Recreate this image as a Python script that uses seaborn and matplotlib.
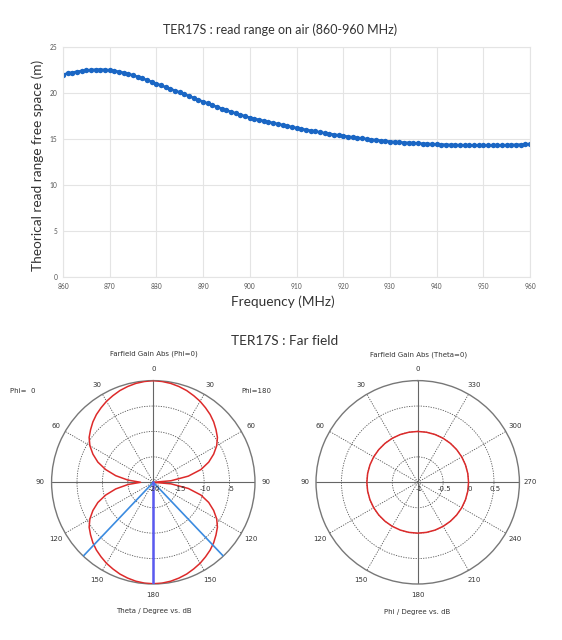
import numpy as np
import pandas as pd
import matplotlib
matplotlib.use("Agg")
import matplotlib.pyplot as plt
import seaborn as sns

# ---- read range vs frequency (one point per MHz) ----
freq_mhz = list(range(860, 961))
read_range_m = [
    22.00, 22.12, 22.22, 22.31, 22.39, 22.45, 22.50, 22.53, 22.54, 22.52,  # 860-869
    22.47, 22.40, 22.31, 22.20, 22.07, 21.92, 21.76, 21.58, 21.40, 21.21,  # 870-879
    21.01, 20.82, 20.63, 20.44, 20.25, 20.06, 19.86, 19.66, 19.46, 19.25,  # 880-889
    19.05, 18.86, 18.67, 18.48, 18.30, 18.12, 17.95, 17.79, 17.63, 17.47,  # 890-899
    17.32, 17.20, 17.08, 16.96, 16.85, 16.74, 16.63, 16.52, 16.41, 16.30,  # 900-909
    16.20, 16.10, 16.00, 15.91, 15.82, 15.73, 15.64, 15.56, 15.48, 15.40,  # 910-919
    15.33, 15.26, 15.19, 15.12, 15.06, 15.00, 14.94, 14.88, 14.83, 14.77,  # 920-929
    14.72, 14.68, 14.64, 14.61, 14.58, 14.55, 14.52, 14.49, 14.47, 14.44,  # 930-939
    14.42, 14.40, 14.38, 14.36, 14.35, 14.33, 14.32, 14.31, 14.31, 14.30,  # 940-949
    14.30, 14.30, 14.30, 14.31, 14.32, 14.33, 14.35, 14.37, 14.39, 14.42,  # 950-959
    14.45,                                                                 # 960
]

# ---- far field, phi=0 cut (theta 0..180, every 5 deg), dB ----
theta_deg = list(range(0, 181, 5))
gain_phi180 = [0.0, -0.1, -0.25, -0.5, -0.8, -1.2, -1.6, -2.1, -2.6, -3.2,
               -3.9, -4.6, -5.6, -6.9, -8.4, -10.3, -13.0, -16.5, -20.0,
               -16.5, -13.0, -10.3, -8.4, -6.9, -5.6, -4.6, -3.9, -3.2, -2.6,
               -2.1, -1.6, -1.2, -0.8, -0.5, -0.25, -0.1, -0.05]
gain_phi0 = [0.0, -0.1, -0.25, -0.5, -0.8, -1.2, -1.6, -2.1, -2.6, -3.2,
             -3.9, -4.6, -5.6, -6.9, -8.4, -10.3, -12.5, -15.0, -17.5,
             -15.0, -12.5, -10.3, -8.4, -6.9, -5.6, -4.6, -3.9, -3.2, -2.6,
             -2.1, -1.6, -1.2, -0.8, -0.5, -0.25, -0.1, -0.05]
main_lobe_dir = 180.0
beam_width_3db = 87.0

# ---- far field, theta=0 cut (phi 0..360, every 10 deg), dB ----
phi_deg = list(range(0, 361, 10))
gain_theta0 = [0.0, 0.0, 0.0, 0.0, 0.0, 0.0, 0.0, 0.0, 0.0, 0.0,
               0.0, 0.0, 0.0, 0.0, 0.0, 0.0, 0.0, 0.0, 0.0, 0.0,
               0.0, 0.0, 0.0, 0.0, 0.0, 0.0, 0.0, 0.0, 0.0, 0.0,
               0.0, 0.0, 0.0, 0.0, 0.0, 0.0, 0.0]

left_ticklabels = ['0', '30', '60', '90', '120', '150', '180', '150', '120', '90', '60', '30']
right_ticklabels = ['0', '30', '60', '90', '120', '150', '180', '210', '240', '270', '300', '330']

sns.set_theme(style="whitegrid")
plt.rcParams['font.family'] = ['Lato', 'DejaVu Sans']

fig = plt.figure(figsize=(5.62, 6.40), dpi=100)
fig.patch.set_facecolor('white')

# =================== top: read range ===================
ax = fig.add_axes([0.1121, 0.5672, 0.8310, 0.3594])
df = pd.DataFrame({'freq': freq_mhz, 'range': read_range_m})
sns.lineplot(data=df, x='freq', y='range', ax=ax, color='#1a66c4', linewidth=1.8,
             marker='o', markersize=3.9, markeredgewidth=0)
ax.set_xlim(860, 960)
ax.set_ylim(0, 25)
ax.set_xticks(range(860, 961, 10))
ax.set_yticks(range(0, 26, 5))
ax.tick_params(axis='both', labelsize=4.8, colors='#555555', length=0, pad=4)
ax.grid(True, color='#e4e4e4', linewidth=0.8)
for s in ax.spines.values():
    s.set_color('#e4e4e4')
    s.set_linewidth(0.8)
ax.set_xlabel('')
ax.set_ylabel('')
fig.text(0.498, 0.953, 'TER17S : read range on air (860-960 MHz)', ha='center', va='center',
         fontsize=9, color='#333333')
fig.text(0.068, 0.742, 'Theorical read range free space (m)', rotation=90, ha='center',
         va='center', fontsize=9.8, color='#333333')
fig.text(0.504, 0.528, 'Frequency (MHz)', ha='center', va='center', fontsize=9.8,
         color='#333333')

fig.text(0.507, 0.467, 'TER17S : Far field', ha='center', va='center', fontsize=9.8,
         color='#333333')

small = dict(family='DejaVu Sans', color='#333333')


def style_polar(axp, rmin, rmax, rings, ticklabels, label_angle, rlabels):
    axp.set_facecolor('white')
    axp.set_theta_zero_location('N')
    axp.set_ylim(rmin, rmax)
    axp.set_yticks(rings)
    axp.set_yticklabels([])
    axp.set_xticks(np.deg2rad(np.arange(0, 360, 30)))
    axp.set_xticklabels(ticklabels, fontsize=5, **small)
    axp.tick_params(axis='x', pad=-5)
    axp.grid(True, color='#555555', linewidth=0.6, linestyle=(0, (1.5, 1.5)))
    for a in (0, 90, 180, 270):
        axp.axvline(np.deg2rad(a), color='#666666', linewidth=0.8, zorder=2)
    axp.spines['polar'].set_color('#777777')
    axp.spines['polar'].set_linewidth(1.0)
    for r, lab in zip([rmin] + list(rings), rlabels):
        axp.annotate(lab, xy=(np.deg2rad(label_angle), r), xytext=(1, -2.5),
                     textcoords='offset points', ha='center', va='top',
                     fontsize=5, zorder=5, **small)


# =================== bottom left: phi=0 cut ===================
axl = fig.add_axes([0.0918, 0.0875, 0.3619, 0.3178], projection='polar')
axl.set_theta_direction(-1)
style_polar(axl, -20, 0, [-15, -10, -5], left_ticklabels, 90, ['-20', '-15', '-10', '-5'])
th = np.deg2rad(theta_deg)
axl.plot(th, gain_phi180, color='#dd2a2a', linewidth=1.1, zorder=3)
axl.plot(-th, gain_phi0, color='#dd2a2a', linewidth=1.1, zorder=3)
for a in (main_lobe_dir - beam_width_3db / 2, main_lobe_dir + beam_width_3db / 2):
    axl.plot([np.deg2rad(a)] * 2, [-20, 0], color='#3b8be0', linewidth=1.2, zorder=4)
axl.plot([np.deg2rad(main_lobe_dir)] * 2, [-20, 0], color='#5a5af0', linewidth=1.8, zorder=4)

fig.text(0.273, 0.447, 'Farfield Gain Abs (Phi=0)', ha='center', va='center', fontsize=5, **small)
fig.text(0.018, 0.389, 'Phi=  0', ha='left', va='center', fontsize=5, **small)
fig.text(0.457, 0.389, 'Phi=180', ha='center', va='center', fontsize=5, **small)
fig.text(0.273, 0.045, 'Theta / Degree vs. dB', ha='center', va='center', fontsize=5, **small)

# =================== bottom right: theta=0 cut ===================
axr = fig.add_axes([0.5623, 0.0875, 0.3619, 0.3178], projection='polar')
axr.set_theta_direction(1)
style_polar(axr, -1, 1, [-0.5, 0, 0.5], right_ticklabels, 270, ['-1', '-0.5', '0', '0.5'])
axr.plot(np.deg2rad(phi_deg), gain_theta0, color='#dd2a2a', linewidth=1.1, zorder=3)

fig.text(0.744, 0.445, 'Farfield Gain Abs (Theta=0)', ha='center', va='center', fontsize=5, **small)
fig.text(0.743, 0.043, 'Phi / Degree vs. dB', ha='center', va='center', fontsize=5, **small)

fig.savefig('out.png', dpi=100, facecolor='white')
